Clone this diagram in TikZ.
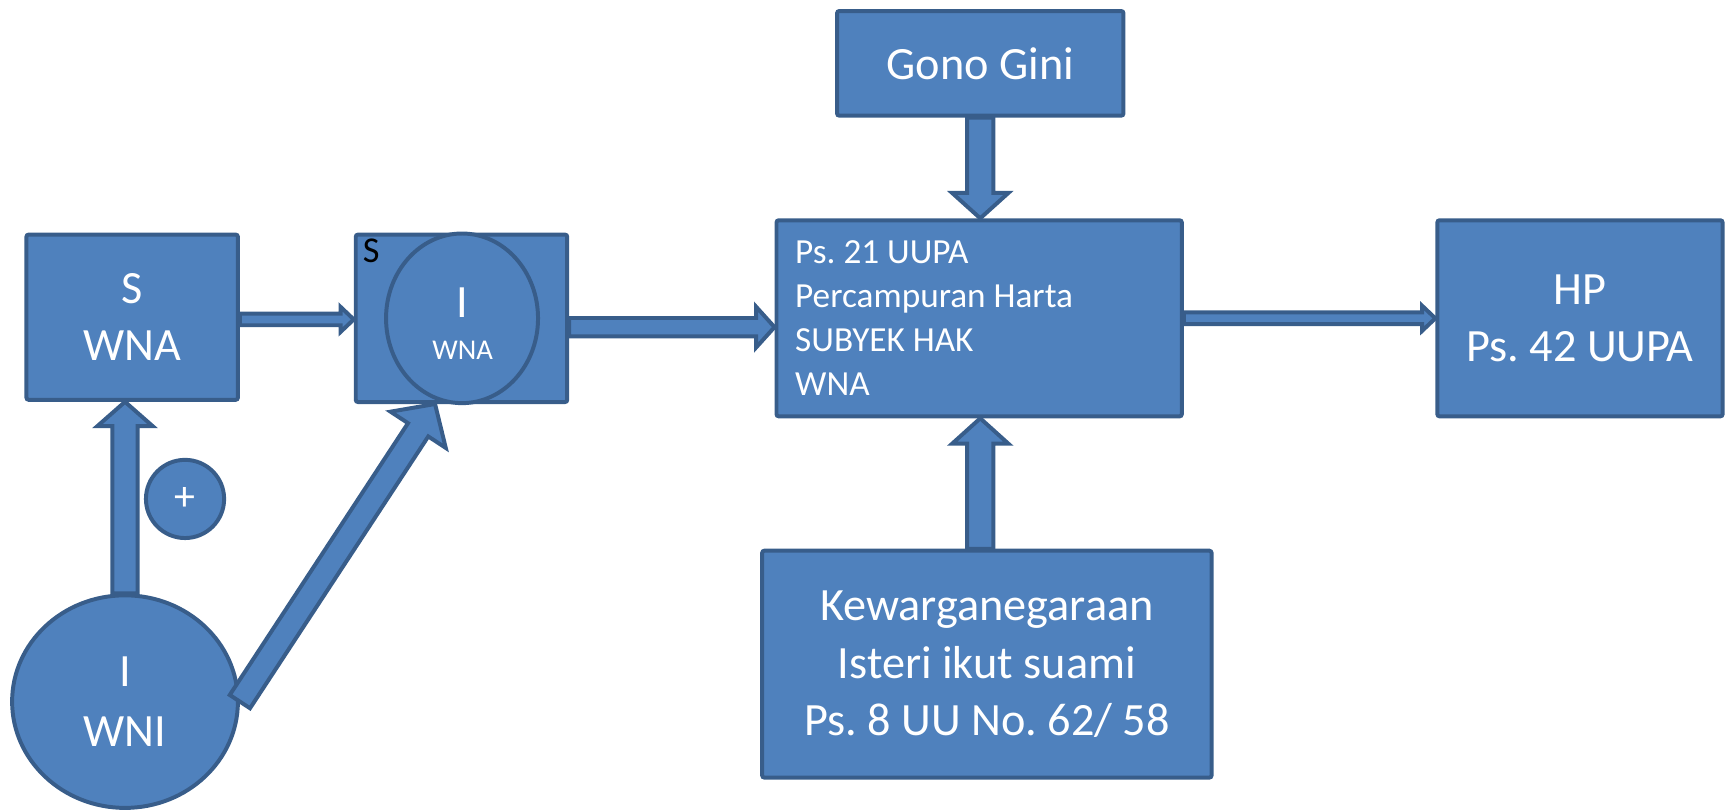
\documentclass[tikz,border=0pt]{standalone}
\usepackage{fontspec}
\setmainfont{Carlito}
\usetikzlibrary{calc,shapes.geometric}
\definecolor{boxfill}{HTML}{4F81BD}
\definecolor{boxline}{HTML}{385D8A}
\tikzset{
  box/.style={draw=boxline, fill=boxfill, line width=1.8pt, rounded corners=1pt,
    text=white, inner sep=0pt, align=center, font=\fontsize{21}{26}\selectfont},
  oval/.style={ellipse, draw=boxline, fill=boxfill, line width=1.8pt,
    text=white, inner sep=0pt, align=center},
  barrow/.style={draw=boxline, fill=boxfill, line width=1.8pt, line join=miter},
}
% #2 tail, #3 tip, #4 shaft half width, #5 head half width, #6 head length
\newcommand\blockarrow[6][]{%
  \coordinate (ba-t) at (#2);
  \coordinate (ba-h) at (#3);
  \coordinate (ba-b) at ($(ba-h)!#6!(ba-t)$);
  \draw[barrow,#1] ($(ba-t)!#4!90:(ba-h)$) -- ($(ba-b)!#4!90:(ba-h)$)
    -- ($(ba-b)!#5!90:(ba-h)$) -- (ba-h) -- ($(ba-b)!#5!-90:(ba-h)$)
    -- ($(ba-b)!#4!-90:(ba-h)$) -- ($(ba-t)!#4!-90:(ba-h)$) -- cycle;}
\begin{document}
\frenchspacing
\begin{tikzpicture}[x=0.5pt,y=-0.5pt]
\useasboundingbox (0,0) rectangle (1568,735.4);

\node[box, minimum width=96pt, minimum height=75pt] (A) at (120,288) {S\\WNA};
\node[box, minimum width=96pt, minimum height=76pt] (B) at (419,289) {};
\node[oval, minimum width=69pt, minimum height=77pt] (Bi) at (419.5,289) {};
\node[text=white, font=\fontsize{21}{26}\selectfont, inner sep=0pt] (Bt) at (420,275) {I};
\node[text=white, font=\fontsize{13}{15}\selectfont, inner sep=0pt] (Bw) at (420,318) {WNA};
\node[text=black, font=\fontsize{16.5}{18}\selectfont, inner sep=0pt] (Bs) at (337,228) {S};

\node[box, minimum width=184pt, minimum height=89pt, text width=167pt, align=flush left,
  font=\fontsize{16}{20}\selectfont] (C) at (889,289)
  {Ps. 21 UUPA\\Percampuran Harta\\SUBYEK HAK\\WNA};
\node[box, minimum width=129.5pt, minimum height=89pt] (D) at (1434.5,289) {HP\\Ps. 42 UUPA};
\node[box, minimum width=130pt, minimum height=47.5pt] (E) at (890,57.5) {Gono Gini};
\node[box, minimum width=204pt, minimum height=103pt] (F) at (896,603)
  {Kewarganegaraan\\Isteri ikut suami\\Ps. 8 UU No. 62/ 58};

\node[oval, minimum width=102.5pt, minimum height=96.5pt,
  font=\fontsize{21}{27}\selectfont] (G) at (113.5,637) {I\\WNI};
\node[oval, circle, minimum size=35.5pt, font=\fontsize{19}{22}\selectfont] (P) at (168,453) {+};

\coordinate (ab) at ([yshift=-1pt]A.east);
\coordinate (bc) at ([yshift=-4pt]B.east);
\blockarrow{G.north}{G.north |- A.south}{5.75pt}{12.5pt}{11pt}
\blockarrow{G.east}{[xshift=-12pt]B.south}{5.5pt}{15pt}{14pt}
\blockarrow{ab}{B.west |- ab}{2.65pt}{5.7pt}{6pt}
\blockarrow{bc}{C.west |- bc}{4.15pt}{9.25pt}{8.35pt}
\blockarrow{C.east}{D.west |- C.east}{2.65pt}{5.7pt}{6pt}
\blockarrow{E.south}{E.south |- C.north}{6pt}{12.75pt}{11.5pt}
\blockarrow{F.north -| E.south}{E.south |- C.south}{6pt}{12.75pt}{11.5pt}
\end{tikzpicture}
\end{document}
